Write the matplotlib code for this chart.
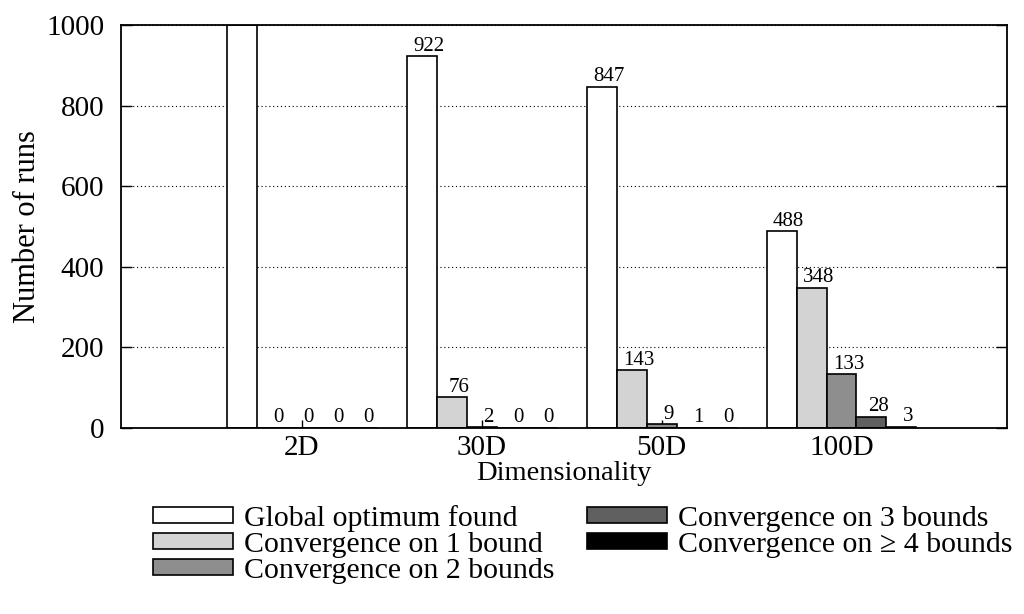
import numpy as np
import matplotlib
matplotlib.use("Agg")
import matplotlib.pyplot as plt

plt.rcParams["font.family"] = ["Liberation Serif", "DejaVu Serif"]

dims = ["2D", "30D", "50D", "100D"]
series = ["Global optimum found", "Convergence on 1 bound",
          "Convergence on 2 bounds", "Convergence on 3 bounds",
          "Convergence on ≥ 4 bounds"]
global_opt = [1000, 922, 847, 488]
conv_1 = [0, 76, 143, 348]
conv_2 = [0, 2, 9, 133]
conv_3 = [0, 0, 1, 28]
conv_4 = [0, 0, 0, 3]
colors = ["#ffffff", "#d3d3d3", "#8e8e8e", "#606060", "#000000"]

values = [global_opt, conv_1, conv_2, conv_3, conv_4]

fig = plt.figure(figsize=(10.24, 6.14), dpi=100)
ax = fig.add_axes([0.1182, 0.3029, 0.8652, 0.6564])

x = np.arange(len(dims))
w = 1.0 / 6
for i, (vals, name, c) in enumerate(zip(values, series, colors)):
	xs = x - 2 * w + i * w
	ax.bar(xs, vals, width=w, color=c, edgecolor="black", linewidth=1.2,
	       label=name, zorder=2)
	for xi, v in zip(xs, vals):
		ax.annotate(str(v), (xi, v), xytext=(5, 0.5), textcoords="offset points",
		            ha="center", va="bottom", fontsize=15, clip_on=True,
		            annotation_clip=True)

ax.set_xlim(-1.005, 3.92)
ax.set_ylim(0, 1000)
ax.set_yticks([0, 200, 400, 600, 800, 1000])
ax.set_xticks(x)
ax.set_xticklabels(dims)
ax.tick_params(axis="y", direction="in", length=8, width=1, labelsize=21,
               right=True, pad=12)
ax.tick_params(axis="x", direction="in", length=6, width=1, labelsize=21,
               top=False, pad=5)
ax.grid(axis="y", linestyle=(0, (1, 2.5)), color="black", linewidth=0.8,
        zorder=0)
ax.set_axisbelow(True)
for s in ax.spines.values():
	s.set_linewidth(1.3)

ax.set_xlabel("Dimensionality", fontsize=20.5, labelpad=0)
ax.set_ylabel("Number of runs", fontsize=22)
ax.yaxis.set_label_coords(-0.089, 0.5)

fig.legend(loc="upper left", bbox_to_anchor=(0.149, 0.178), ncol=2,
           fontsize=21.5, frameon=False, handlelength=2.68, handleheight=0.47,
           handletextpad=0.37, labelspacing=0.0, columnspacing=1.1,
           borderaxespad=0, borderpad=0)

fig.savefig("out.png", dpi=100)
